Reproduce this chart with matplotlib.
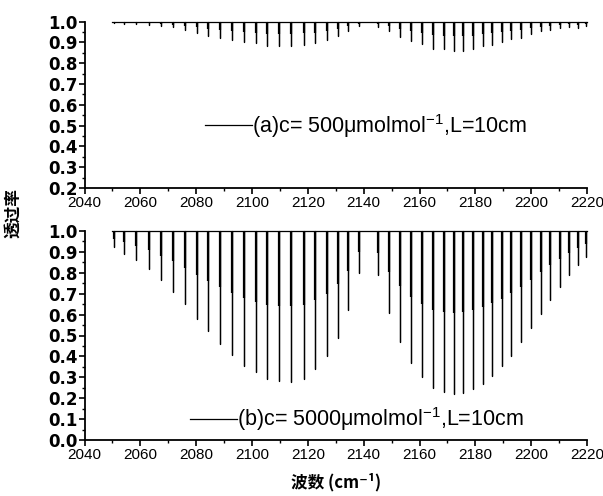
import numpy as np
import matplotlib
matplotlib.use("Agg")
import matplotlib.pyplot as plt
from matplotlib.ticker import MultipleLocator
from matplotlib.lines import Line2D

# ---- data ----
# line positions (cm^-1): P branch (P22..P1) and R branch (R0..R21)
p_pos = [2050.4, 2054.1, 2058.6, 2063.1, 2067.4, 2071.7, 2076.0, 2080.3, 2084.3,
         2088.6, 2092.9, 2097.2, 2101.3, 2105.4, 2109.5, 2113.9, 2118.5, 2122.7,
         2126.8, 2130.8, 2134.4, 2138.4]
r_pos = [2145.0, 2149.1, 2153.0, 2156.9, 2161.0, 2164.7, 2168.6, 2172.4, 2175.6,
         2179.0, 2182.6, 2186.1, 2189.5, 2192.9, 2196.3, 2199.8, 2203.5, 2206.9,
         2210.2, 2213.5, 2216.6, 2219.5]

# minimum transmittance, panel (a) c=500 umol/mol
p_min_a = [0.995, 0.99, 0.99, 0.985, 0.98, 0.973, 0.96, 0.947, 0.93, 0.92, 0.91,
           0.90, 0.896, 0.885, 0.885, 0.883, 0.888, 0.896, 0.912, 0.931, 0.957, 0.979]
r_min_a = [0.976, 0.957, 0.928, 0.909, 0.891, 0.869, 0.867, 0.861, 0.859, 0.867,
           0.883, 0.888, 0.90, 0.915, 0.922, 0.94, 0.953, 0.962, 0.97, 0.975, 0.972, 0.98]

# minimum transmittance, panel (b) c=5000 umol/mol
p_min_b = [0.925, 0.89, 0.86, 0.82, 0.765, 0.71, 0.65, 0.58, 0.52, 0.46, 0.405,
           0.355, 0.325, 0.292, 0.282, 0.278, 0.29, 0.34, 0.40, 0.49, 0.62, 0.80]
r_min_b = [0.79, 0.61, 0.47, 0.367, 0.30, 0.247, 0.228, 0.22, 0.226, 0.242, 0.268,
           0.308, 0.354, 0.404, 0.467, 0.534, 0.603, 0.67, 0.734, 0.79, 0.837, 0.877]

x_start, x_end = 2050.0, 2220.0

label_a = r"(a)c= 500$\mu$molmol$^{-1}$,L=10cm"
label_b = r"(b)c= 5000$\mu$molmol$^{-1}$,L=10cm"

plt.rcParams['mathtext.fontset'] = 'custom'
plt.rcParams['mathtext.rm'] = 'Liberation Sans'
plt.rcParams['mathtext.it'] = 'Liberation Sans'
plt.rcParams['mathtext.default'] = 'regular'

W, H = 603, 496
fig = plt.figure(figsize=(W / 100, H / 100), dpi=100)

left = 84.5 / W
width = (587 - 84.5) / W
ax_a = fig.add_axes([left, (H - 188) / H, width, (188 - 21.7) / H])
ax_b = fig.add_axes([left, (H - 440) / H, width, (440 - 231) / H])


def spectrum(pos, mins):
    pos = np.asarray(pos, float)
    mins = np.asarray(mins, float)
    xs = np.concatenate([[x_start], np.repeat(pos, 3), [x_end]])
    ys = np.concatenate([[1.0], np.column_stack([np.ones_like(mins), mins,
                                                  np.ones_like(mins)]).ravel(), [1.0]])
    return xs, ys


def draw(ax, mins_p, mins_r, ylo, label, lx, ly):
    pos = p_pos + r_pos
    mins = mins_p + mins_r
    xs, ys = spectrum(pos, mins)
    ax.plot(xs, ys, color='black', lw=0.9, clip_on=False)
    mins = np.asarray(mins)
    ax.vlines(pos, 1 - 0.5 * (1 - mins), 1.0, color='black', lw=1.6, clip_on=False)
    ax.set_xlim(2040, 2220)
    ax.set_ylim(ylo, 1.0)
    ax.xaxis.set_major_locator(MultipleLocator(20))
    ax.xaxis.set_minor_locator(MultipleLocator(10))
    ax.yaxis.set_major_locator(MultipleLocator(0.1))
    ax.yaxis.set_minor_locator(MultipleLocator(0.05))
    ax.spines['top'].set_visible(False)
    ax.spines['right'].set_visible(False)
    for s in ('left', 'bottom'):
        ax.spines[s].set_linewidth(1.3)
    ax.tick_params(axis='both', which='major', direction='out', length=4, width=1.2)
    ax.tick_params(axis='both', which='minor', direction='out', length=2.5, width=1.0)
    ax.tick_params(axis='x', labelsize=11, pad=2)
    ax.tick_params(axis='y', labelsize=12, pad=1)
    ax.yaxis.set_major_formatter(matplotlib.ticker.FormatStrFormatter('%.1f'))
    for t in ax.get_xticklabels():
        t.set_fontfamily('Liberation Sans')
    for t in ax.get_yticklabels():
        t.set_fontfamily('DejaVu Sans')
        t.set_fontweight('bold')
    h = Line2D([], [], color='black', lw=0.9)
    ax.legend([h], [label], loc='center left', bbox_to_anchor=(lx, ly),
              frameon=False, handlelength=2.2, handletextpad=0.0,
              borderpad=0, borderaxespad=0,
              prop={'family': 'Liberation Sans', 'size': 15.5})


draw(ax_a, p_min_a, r_min_a, 0.2, label_a, 0.24, 0.375)
draw(ax_b, p_min_b, r_min_b, 0.0, label_b, 0.209, 0.1)

fig.text(0.022, 0.57, "透过率", rotation=90, ha='center', va='center',
         family=['Noto Sans CJK SC', 'DejaVu Sans'], fontweight='bold', fontsize=12)
fig.text(0.557, 0.028, "波数 (cm⁻¹)", ha='center', va='center',
         family=['Noto Sans CJK SC', 'DejaVu Sans'], fontweight='bold', fontsize=12)

fig.savefig("out.png", dpi=100)
